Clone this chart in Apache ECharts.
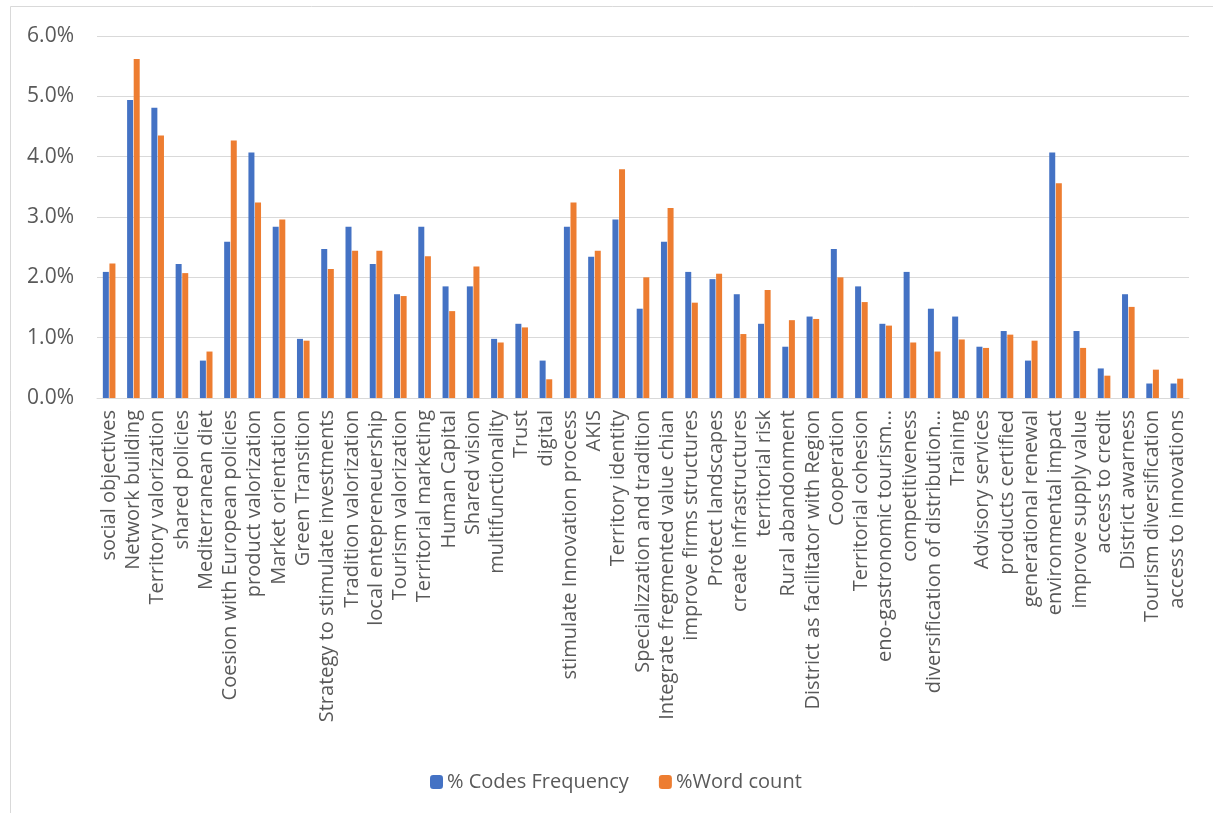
<!DOCTYPE html>
<html>
<head>
<meta charset="utf-8">
<script src="https://cdn.jsdelivr.net/npm/echarts@6/dist/echarts.min.js"></script>
<style>
html, body { margin: 0; padding: 0; background: #fff; }
#chart { width: 1213px; height: 813px; }
</style>
</head>
<body>
<div id="chart"></div>
<script>
// categories
const categories = [
  "social objectives", "Network building", "Territory valorization", "shared policies",
  "Mediterranean diet", "Coesion with European policies", "product valorization",
  "Market orientation", "Green Transition", "Strategy to stimulate investments",
  "Tradition valorization", "local entepreneuership", "Tourism valorization",
  "Territorial marketing", "Human Capital", "Shared vision", "multifunctionality",
  "Trust", "digital", "stimulate Innovation process", "AKIS", "Territory identity",
  "Specializzation and tradition", "Integrate fregmented value chian",
  "improve firms structures", "Protect landscapes", "create infrastructures",
  "territorial risk", "Rural abandonment", "District as facilitator with Region",
  "Cooperation", "Territorial cohesion", "eno-gastronomic tourism...", "competitiveness",
  "diversification of distribution...", "Training", "Advisory services",
  "products certified", "generational renewal", "environmental impact",
  "improve supply value", "access to credit", "District awarness",
  "Tourism diversification", "access to innovations"
];

// % Codes Frequency
const codesFrequency = [
  2.09, 4.94, 4.81, 2.22, 0.62, 2.59, 4.07, 2.84, 0.98, 2.47,
  2.84, 2.22, 1.72, 2.84, 1.85, 1.85, 0.98, 1.23, 0.62, 2.84,
  2.34, 2.96, 1.48, 2.59, 2.09, 1.97, 1.72, 1.23, 0.85, 1.35,
  2.47, 1.85, 1.23, 2.09, 1.48, 1.35, 0.85, 1.11, 0.62, 4.07,
  1.11, 0.49, 1.72, 0.24, 0.24
];

// %Word count
const wordCount = [
  2.23, 5.62, 4.35, 2.07, 0.77, 4.27, 3.24, 2.96, 0.95, 2.14,
  2.44, 2.44, 1.69, 2.35, 1.44, 2.18, 0.92, 1.17, 0.31, 3.24,
  2.44, 3.79, 2.00, 3.15, 1.58, 2.06, 1.06, 1.79, 1.29, 1.31,
  2.00, 1.59, 1.20, 0.92, 0.77, 0.97, 0.83, 1.05, 0.95, 3.56,
  0.83, 0.37, 1.51, 0.47, 0.32
];

const chart = echarts.init(document.getElementById("chart"));

const option = {
  animation: false,
  textStyle: { fontFamily: "Open Sans", color: "#595959" },
  graphic: [{
    type: "rect",
    shape: { x: 10.5, y: 6.5, width: 1220, height: 830 },
    style: { fill: "none", stroke: "#d9d9d9", lineWidth: 1 },
    silent: true
  }],
  grid: { left: 97, right: 24, top: 36, bottom: 415 },
  legend: {
    left: 425,
    top: 767,
    itemWidth: 13,
    itemHeight: 14,
    itemGap: 30,
    textStyle: { fontFamily: "Open Sans", fontSize: 20, color: "#595959", padding: [0, 0, 0, -1] },
    data: ["% Codes Frequency", "%Word count"]
  },
  xAxis: {
    type: "category",
    data: categories,
    axisLine: { lineStyle: { color: "#d9d9d9" } },
    axisTick: { show: false },
    axisLabel: {
      interval: 0,
      rotate: 90,
      fontSize: 20,
      color: "#595959",
      margin: 12
    }
  },
  yAxis: {
    type: "value",
    min: 0,
    max: 6,
    interval: 1,
    axisLine: { show: false },
    axisTick: { show: false },
    splitLine: { lineStyle: { color: "#d9d9d9", width: 1 } },
    axisLabel: {
      fontSize: 21,
      color: "#595959",
      margin: 23,
      formatter: v => v.toFixed(1) + "%"
    }
  },
  series: [
    {
      name: "% Codes Frequency",
      type: "bar",
      data: codesFrequency,
      barWidth: 6,
      barGap: "10%",
      itemStyle: { color: "#4472C4" }
    },
    {
      name: "%Word count",
      type: "bar",
      data: wordCount,
      barWidth: 6,
      itemStyle: { color: "#ED7D31" }
    }
  ]
};

chart.setOption(option);
</script>
</body>
</html>
